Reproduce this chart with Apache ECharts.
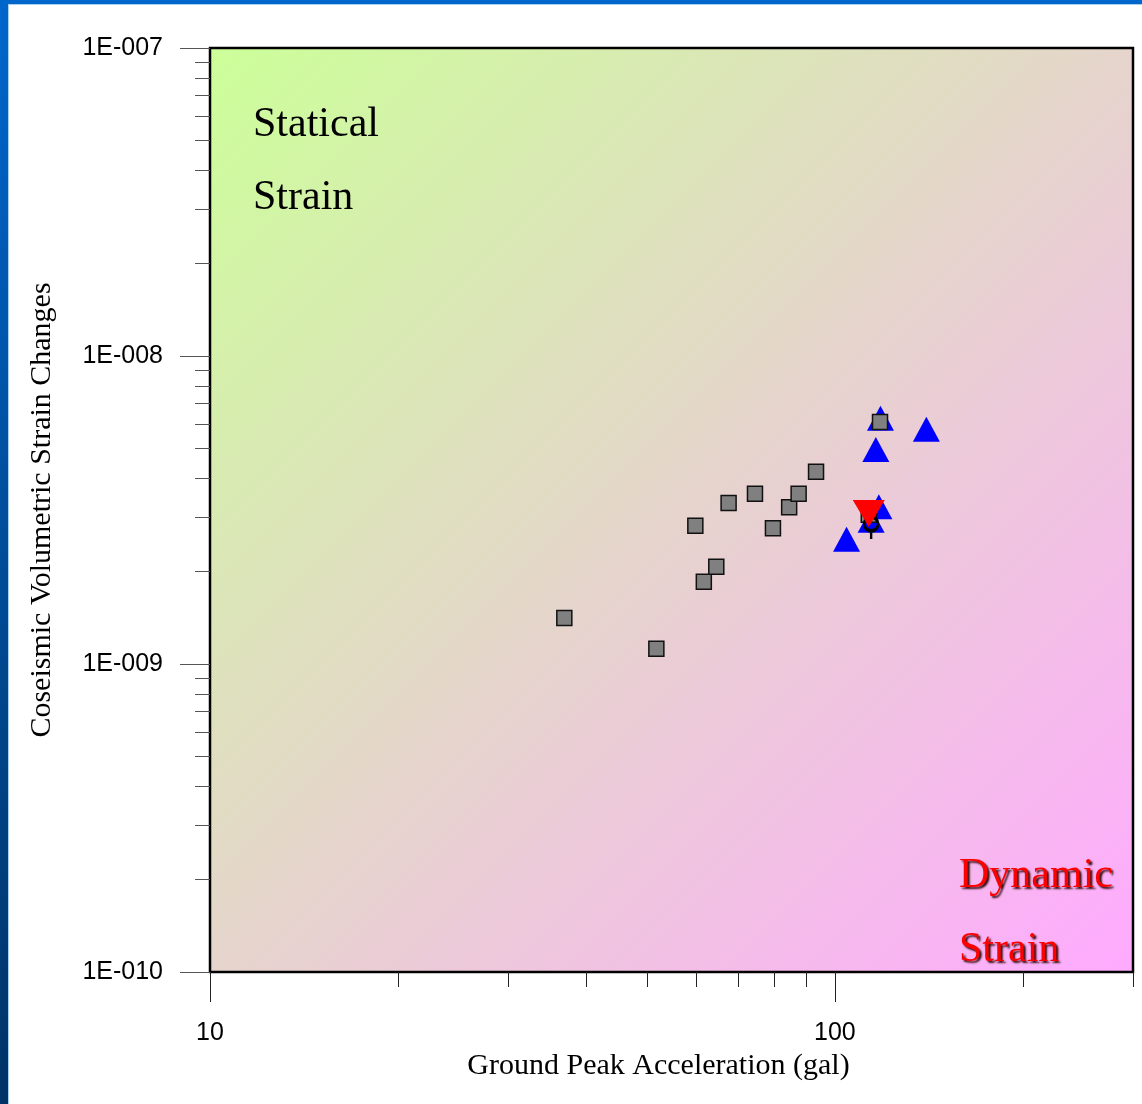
<!DOCTYPE html>
<html>
<head>
<meta charset="utf-8">
<script src="https://cdn.jsdelivr.net/npm/echarts@6/dist/echarts.min.js"></script>
<style>
  html, body { margin: 0; padding: 0; background: #ffffff; }
  #chart { width: 1142px; height: 1104px; }
</style>
</head>
<body>
<div id="chart"></div>
<script>
// Axis tick positions (log axes)
const xMajorTicks = [10, 100];
const xMinorTicks = [20, 30, 40, 50, 60, 70, 80, 90, 200, 300];
const yMajorTicks = [1e-10, 1e-9, 1e-8, 1e-7];
const yMinorTicks = [
  2e-10, 3e-10, 4e-10, 5e-10, 6e-10, 7e-10, 8e-10, 9e-10,
  2e-9, 3e-9, 4e-9, 5e-9, 6e-9, 7e-9, 8e-9, 9e-9,
  2e-8, 3e-8, 4e-8, 5e-8, 6e-8, 7e-8, 8e-8, 9e-8
];

// Gray squares
const squareAcc    = [36.9, 51.8, 59.8, 61.7, 64.6, 67.6, 74.5, 79.6, 84.5, 87.5, 93.3, 118.1, 113.3];
const squareStrain = [1.41e-9, 1.12e-9, 2.81e-9, 1.85e-9, 2.07e-9, 3.33e-9, 3.57e-9, 2.76e-9, 3.23e-9, 3.57e-9, 4.21e-9, 6.10e-9, 3.05e-9];

// Blue triangles
const triAcc    = [118.3, 140.1, 116.3, 117.6, 114.3, 104.4];
const triStrain = [6.28e-9, 5.78e-9, 4.97e-9, 3.24e-9, 2.93e-9, 2.54e-9];

// Red inverted triangle
const invAcc    = [113.3];
const invStrain = [3.08e-9];

// Ring marker with stem
const ringAcc    = [114.3];
const ringStrain = [2.85e-9];

const zip = (xs, ys) => xs.map((x, i) => [x, ys[i]]);

const sciLabel = v => {
  const e = Math.round(Math.log10(v));
  const sign = e < 0 ? '-' : '+';
  return '1E' + sign + String(Math.abs(e)).padStart(3, '0');
};

const chart = echarts.init(document.getElementById('chart'), null, { renderer: 'canvas' });

const dynStyle = {
  font: '42px "Liberation Serif"', fill: '#ff0000',
  textShadowColor: 'rgba(40,0,0,0.95)', textShadowBlur: 2, textShadowOffsetX: 2, textShadowOffsetY: 2
};

const option = {
  backgroundColor: '#ffffff',
  animation: false,
  grid: {
    show: true,
    left: 210, top: 48, right: 9, bottom: 132,
    borderColor: '#000000',
    borderWidth: 2.5,
    backgroundColor: {
      type: 'linear', x: 0, y: 0, x2: 1, y2: 1,
      colorStops: [
        { offset: 0, color: '#ccff99' },
        { offset: 1, color: '#ffaaff' }
      ]
    }
  },
  xAxis: [
    {
      type: 'log', logBase: 10, min: 10, max: 300,
      position: 'bottom',
      axisLine: { show: false },
      splitLine: { show: false },
      minorTick: { show: false },
      axisTick: { customValues: xMajorTicks, length: 30, lineStyle: { color: '#222', width: 1 } },
      axisLabel: {
        customValues: xMajorTicks,
        formatter: v => String(Math.round(v)),
        margin: 49,
        color: '#000',
        fontFamily: 'Liberation Sans',
        fontSize: 25
      },
      name: 'Ground Peak Acceleration (gal)',
      nameLocation: 'middle',
      nameGap: 77,
      nameTextStyle: {
        fontFamily: 'Liberation Serif', fontSize: 30, color: '#000',
        padding: [0, 26, 0, 0]
      }
    },
    {
      type: 'log', logBase: 10, min: 10, max: 300,
      position: 'bottom',
      axisLine: { show: false },
      splitLine: { show: false },
      axisTick: { customValues: xMinorTicks, length: 15, lineStyle: { color: '#222', width: 1 } },
      axisLabel: { show: false }
    }
  ],
  yAxis: [
    {
      type: 'log', logBase: 10, min: 1e-10, max: 1e-7,
      position: 'left',
      axisLine: { show: false },
      splitLine: { show: false },
      axisTick: { customValues: yMajorTicks, length: 30, lineStyle: { color: '#555', width: 1 } },
      axisLabel: {
        customValues: yMajorTicks,
        formatter: sciLabel,
        margin: 47,
        color: '#000',
        fontFamily: 'Liberation Sans',
        fontSize: 25
      },
      name: 'Coseismic Volumetric Strain Changes',
      nameLocation: 'middle',
      nameGap: 153,
      nameTextStyle: { fontFamily: 'Liberation Serif', fontSize: 30, color: '#000' }
    },
    {
      type: 'log', logBase: 10, min: 1e-10, max: 1e-7,
      position: 'left',
      axisLine: { show: false },
      splitLine: { show: false },
      axisTick: { customValues: yMinorTicks, length: 15, lineStyle: { color: '#555', width: 1 } },
      axisLabel: { show: false }
    }
  ],
  series: [
    {
      name: 'triangles',
      type: 'scatter',
      xAxisIndex: 0, yAxisIndex: 0,
      z: 2,
      symbol: 'triangle',
      symbolSize: [27, 25],
      itemStyle: { color: '#0000ff', opacity: 1 },
      data: zip(triAcc, triStrain)
    },
    {
      name: 'squares',
      type: 'scatter',
      xAxisIndex: 0, yAxisIndex: 0,
      z: 3,
      symbol: 'rect',
      symbolSize: 15,
      itemStyle: { color: '#808080', borderColor: '#111', borderWidth: 1.5, opacity: 1 },
      data: zip(squareAcc, squareStrain)
    },
    {
      name: 'ring',
      type: 'scatter',
      xAxisIndex: 0, yAxisIndex: 0,
      z: 4,
      symbol: 'path://M1,8 A7,7 0 1,1 15,8 A7,7 0 1,1 1,8 Z M8,15 L8,23',
      symbolSize: [14, 22],
      symbolOffset: [0, 4],
      itemStyle: { color: 'rgba(0,0,0,0)', borderColor: '#000', borderWidth: 3, opacity: 1 },
      data: zip(ringAcc, ringStrain)
    },
    {
      name: 'inverted',
      type: 'scatter',
      xAxisIndex: 0, yAxisIndex: 0,
      z: 5,
      symbol: 'triangle',
      symbolRotate: 180,
      symbolSize: [32, 27],
      itemStyle: { color: '#ff0000', opacity: 1 },
      data: zip(invAcc, invStrain)
    }
  ],
  graphic: [
    // slide frame
    { type: 'rect', left: 0, top: 0, z: 100, shape: { width: 1142, height: 4 }, style: { fill: '#0066cc' } },
    { type: 'rect', left: 0, top: 4, z: 100, shape: { width: 1142, height: 1 }, style: { fill: '#a8d0f0' } },
    {
      type: 'rect', left: 0, top: 0, z: 101, shape: { width: 8, height: 1104 },
      style: {
        fill: {
          type: 'linear', x: 0, y: 0, x2: 0, y2: 1,
          colorStops: [{ offset: 0, color: '#0066cc' }, { offset: 1, color: '#003366' }]
        }
      }
    },
    { type: 'rect', left: 8, top: 4, z: 101, shape: { width: 1, height: 1100 }, style: { fill: '#a8d0f0' } },
    // region labels
    {
      type: 'text', left: 253, top: 104, z: 50,
      style: { text: 'Statical', font: '42px "Liberation Serif"', fill: '#000' }
    },
    {
      type: 'text', left: 253, top: 177, z: 50,
      style: { text: 'Strain', font: '42px "Liberation Serif"', fill: '#000' }
    },
    { type: 'text', left: 959, top: 855, z: 50, style: Object.assign({ text: 'Dynamic' }, dynStyle) },
    { type: 'text', left: 959, top: 929, z: 50, style: Object.assign({ text: 'Strain' }, dynStyle) }
  ]
};

chart.setOption(option);
</script>
</body>
</html>
